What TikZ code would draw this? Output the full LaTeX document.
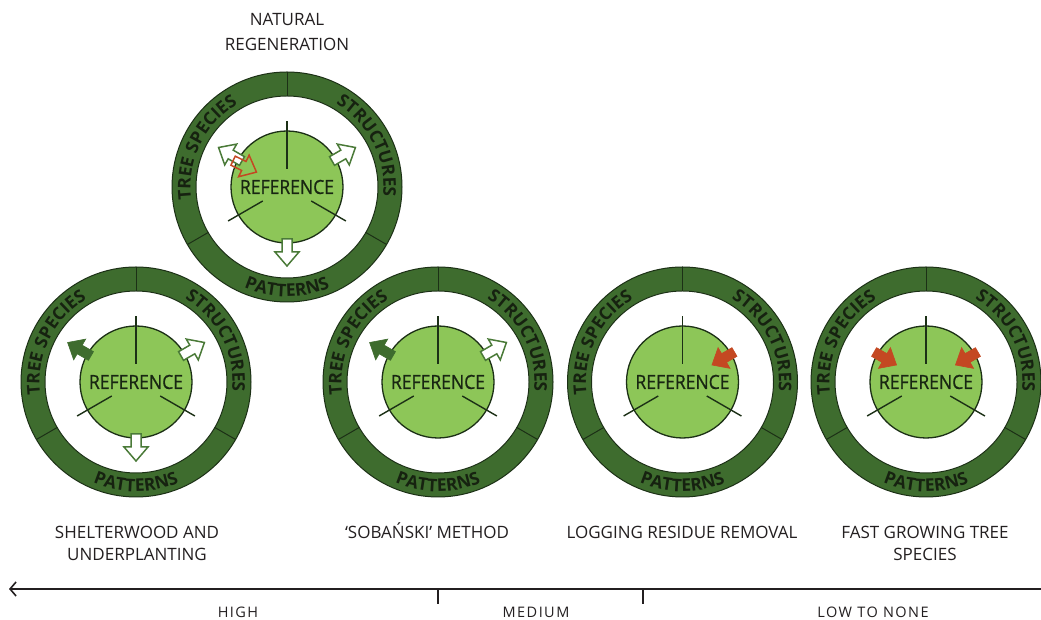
\documentclass[tikz,border=0pt]{standalone}
\usepackage{fontspec}
\setmainfont{Open Sans}
\newfontfamily\reffont{Open Sans}[FakeStretch=0.9, FakeBold=0.8]
\newfontfamily\spacedfont{Open Sans}[LetterSpace=10]
\usetikzlibrary{decorations.text, arrows.meta}
\definecolor{ringgreen}{RGB}{62,108,46}
\definecolor{ringline}{RGB}{28,48,22}
\definecolor{refgreen}{RGB}{141,198,88}
\definecolor{reftextcol}{RGB}{24,38,18}
\definecolor{ringtextcol}{RGB}{22,34,16}
\definecolor{hollowgreen}{RGB}{74,122,56}
\definecolor{fillgreen}{RGB}{62,108,46}
\definecolor{arrowred}{RGB}{196,72,34}
\definecolor{labcol}{RGB}{35,31,32}
\newcommand\ringtext{\fontsize{17.5}{17.5}\selectfont\bfseries\color{ringtextcol}}
\tikzset{
  spoke/.style={draw=ringline, line width=1.4pt},
  reftext/.style={font=\reffont\fontsize{19.5}{19.5}\selectfont, text=reftextcol, inner sep=0pt},
  hollowarrow/.style={fill=white, draw=hollowgreen, line width=1.5pt, line join=miter},
  filledarrow/.style={fill=fillgreen, draw=fillgreen, line width=0.6pt, line join=miter},
  redhollow/.style={draw=arrowred, line width=1.5pt, line join=miter},
  redfilled/.style={fill=arrowred, draw=arrowred, line width=0.6pt, line join=miter},
  lab/.style={font=\fontsize{17}{22}\selectfont, text=labcol, align=center, inner sep=0pt, anchor=base},
  axislab/.style={font=\spacedfont\fontsize{14.5}{14.5}\selectfont, text=labcol, inner sep=0pt, anchor=base},
  axisline/.style={draw=labcol, line width=2pt},
  tick/.style={draw=labcol, line width=1.4pt}
}
% arrow pointing outward at angle #1
\newcommand\outarrow[2]{%
  \path[#2, shift={(#1:52)}, rotate=#1] (0,-5) -- (13,-5) -- (13,-12) -- (27,0) -- (13,12) -- (13,5) -- (0,5) -- cycle;}
% arrow pointing inward at angle #1
\newcommand\inarrow[2]{%
  \path[#2, shift={(#1:60)}, rotate=#1+180] (0,-5) -- (12,-5) -- (12,-12) -- (26,0) -- (12,12) -- (12,5) -- (0,5) -- cycle;}
\newcommand\drawpanel[3]{%
  \begin{scope}[shift={(#2,#3)}]
    \draw[ringline, fill=ringgreen, line width=1pt] (0,0) circle[radius=115];
    \draw[ringline, fill=white, line width=1pt] (0,0) circle[radius=91];
    \foreach \a in {90,210,330} \draw[ringline, line width=1pt] (\a:91) -- (\a:115);
    \draw[ringline, fill=refgreen, line width=1.3pt] (0,0) circle[radius=56];
    \draw[spoke] (90:18) -- (90:66);
    \draw[spoke] (210:28) -- (210:68);
    \draw[spoke] (330:28) -- (330:68);
    \node[reftext] (#1) at (0,0) {REFERENCE};
    \path[decorate, decoration={text along path, text align=center, text={|\ringtext|TREE SPECIES}}]
      (214:96.5) arc[start angle=214, end angle=94, radius=96.5];
    \path[decorate, decoration={text along path, text align=center, text={|\ringtext|STRUCTURES}}]
      (87:96.5) arc[start angle=87, end angle=-33, radius=96.5];
    \path[decorate, decoration={text along path, text align=center, text={|\ringtext|PATTERNS}}]
      (210:109.5) arc[start angle=210, end angle=330, radius=109.5];
  \end{scope}}
\begin{document}
\begin{tikzpicture}[x=1pt, y=1pt]
\useasboundingbox (0,0) rectangle (1041,620);
\fill[white] (0,0) rectangle (1041,620);

% top: natural regeneration
\drawpanel{refA}{287}{433}
\begin{scope}[shift={(287,433)}]
  \outarrow{30}{hollowarrow}
  \outarrow{150}{hollowarrow}
  \outarrow{270}{hollowarrow}
  \inarrow{154}{redhollow}
\end{scope}

% shelterwood
\drawpanel{refB}{136}{238}
\begin{scope}[shift={(136,238)}]
  \outarrow{150}{filledarrow}
  \outarrow{30}{hollowarrow}
  \outarrow{270}{hollowarrow}
\end{scope}

% sobanski
\drawpanel{refC}{438}{238}
\begin{scope}[shift={(438,238)}]
  \outarrow{150}{filledarrow}
  \outarrow{30}{hollowarrow}
\end{scope}

% logging residue
\drawpanel{refD}{682.5}{238}
\begin{scope}[shift={(682.5,238)}]
  \inarrow{30}{redfilled}
\end{scope}

% fast growing
\drawpanel{refE}{926}{238}
\begin{scope}[shift={(926,238)}]
  \inarrow{30}{redfilled}
  \inarrow{150}{redfilled}
\end{scope}

% labels (base anchor = baseline of last line)
\node[lab, font=\fontsize{17}{25}\selectfont] (labA) at (287,569) {NATURAL\\REGENERATION};
\node[lab] (labB) at (137,59) {SHELTERWOOD AND\\UNDERPLANTING};
\node[lab] (labC) at (427,81) {‘SOBAŃSKI’ METHOD};
\node[lab] (labD) at (682,81) {LOGGING RESIDUE REMOVAL};
\node[lab] (labE) at (925,59) {FAST GROWING TREE\\SPECIES};

% axis
\coordinate (axR) at (1041,31);
\coordinate (axL) at (9,31);
\draw[axisline, -{Straight Barb[length=6pt, width=14pt, line width=1.6pt]}] (axR) -- (axL);
\coordinate (t1a) at (438,31);
\coordinate (t1b) at (438,16);
\coordinate (t2a) at (643,31);
\coordinate (t2b) at (643,16);
\draw[tick] (t1a) -- (t1b);
\draw[tick] (t2a) -- (t2b);
\node[axislab] (high) at (238,2.5) {HIGH};
\node[axislab] (medium) at (536,2.5) {MEDIUM};
\node[axislab] (low) at (873,2.5) {LOW TO NONE};
\end{tikzpicture}
\end{document}
